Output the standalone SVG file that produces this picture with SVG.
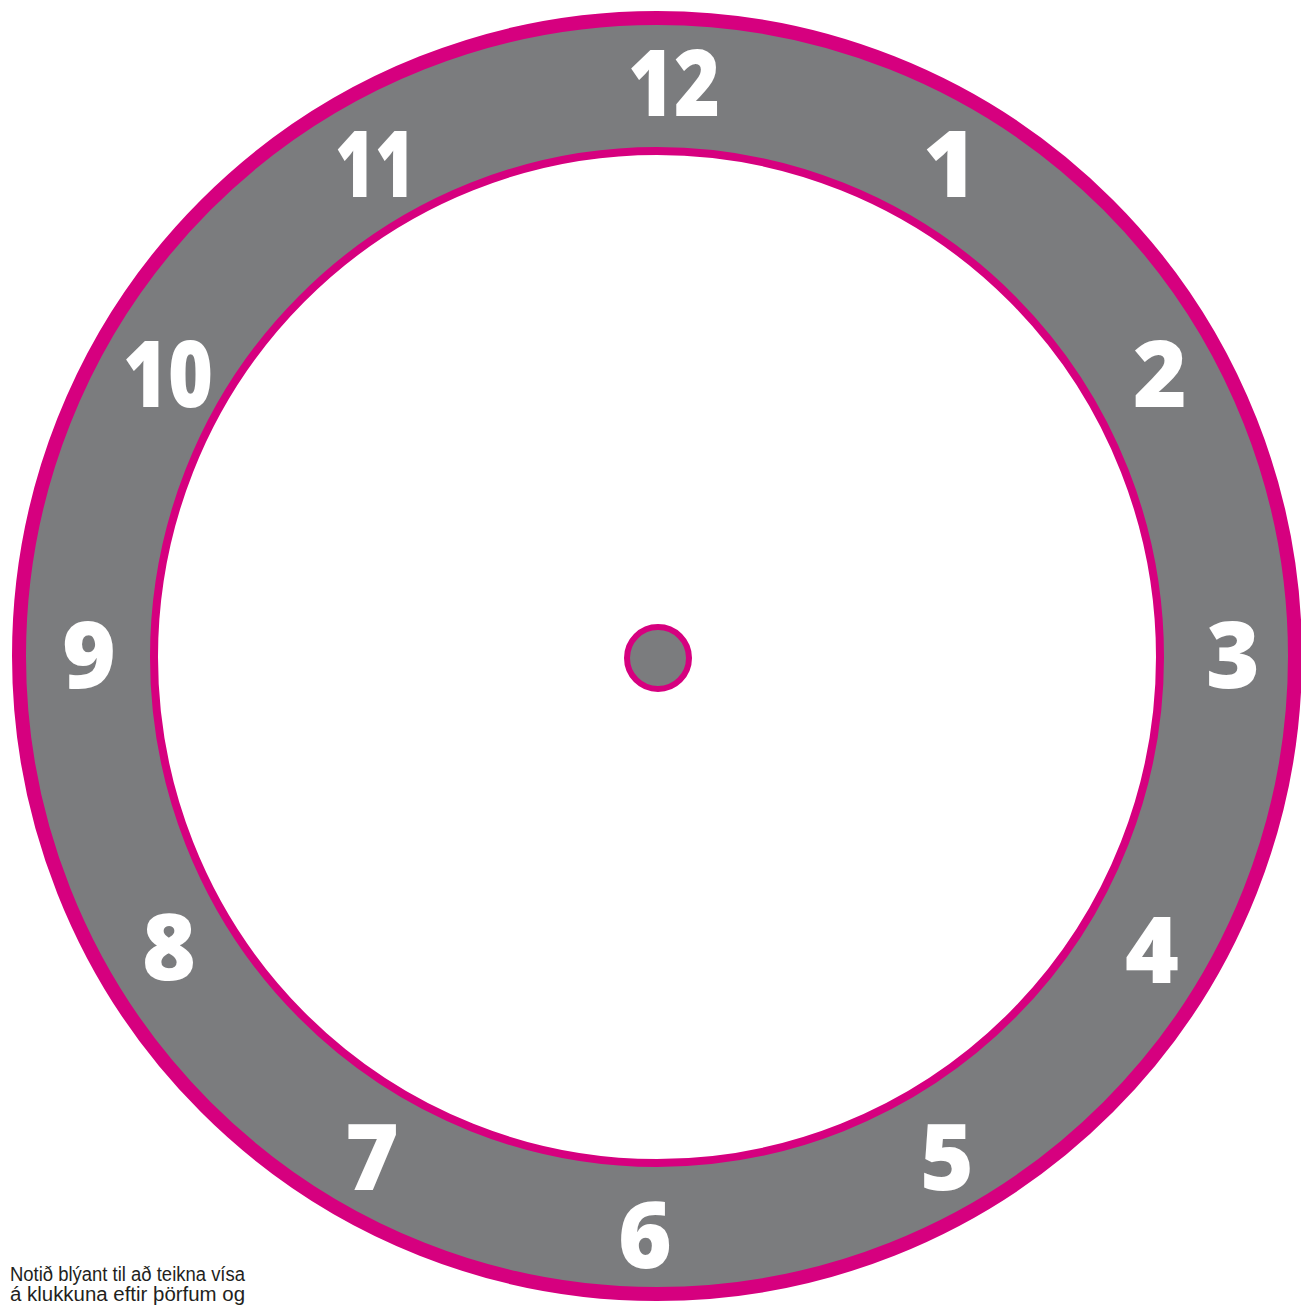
<svg xmlns="http://www.w3.org/2000/svg" width="1301" height="1305" viewBox="0 0 1301 1305">
<style>
.num{font-family:"Open Sans","Liberation Sans",sans-serif;font-weight:800;font-size:92px;fill:#ffffff;text-anchor:middle}
.note{font-family:"Liberation Sans",sans-serif;font-size:20px;fill:#231f20}
</style>
<rect width="1301" height="1305" fill="#ffffff"/>
<g id="clock-face">
<circle cx="657" cy="656" r="638" fill="#7b7c7e" stroke="#d6007f" stroke-width="14"/>
<ellipse cx="657" cy="657" rx="503" ry="506" fill="#ffffff" stroke="#d6007f" stroke-width="8"/>
<circle cx="658" cy="658" r="31" fill="#7b7c7e" stroke="#d6007f" stroke-width="6"/>
</g>
<g id="numbers">
<text class="num" x="674" y="116" textLength="92" lengthAdjust="spacingAndGlyphs">12</text>
<text class="num" x="950" y="197">1</text>
<text class="num" x="1160" y="407">2</text>
<text class="num" x="1233" y="688">3</text>
<text class="num" x="1152" y="983">4</text>
<text class="num" x="947" y="1190">5</text>
<text class="num" x="645" y="1268">6</text>
<text class="num" x="372" y="1190">7</text>
<text class="num" x="169" y="980">8</text>
<text class="num" x="89" y="688">9</text>
<text class="num" x="168" y="407" textLength="90" lengthAdjust="spacingAndGlyphs">10</text>
<text class="num" x="375" y="197" textLength="80" lengthAdjust="spacingAndGlyphs">11</text>
</g>
<g id="note">
<text class="note" x="10" y="1281" textLength="235" lengthAdjust="spacingAndGlyphs">Notið blýant til að teikna vísa</text>
<text class="note" x="10" y="1301" textLength="235" lengthAdjust="spacingAndGlyphs">á klukkuna eftir þörfum og</text>
</g>
</svg>
